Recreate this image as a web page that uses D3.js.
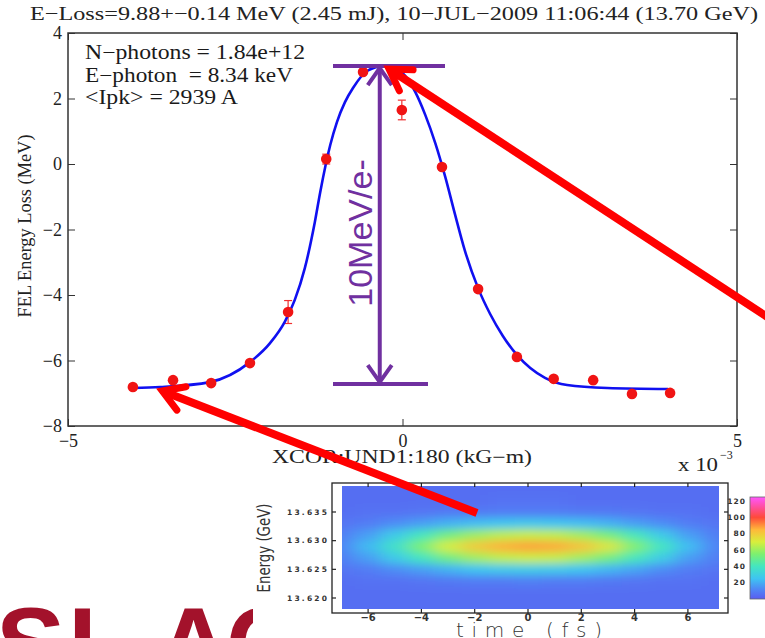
<!DOCTYPE html>
<html>
<head>
<meta charset="utf-8">
<script src="https://cdn.jsdelivr.net/npm/d3@7"></script>
<style>
  body { margin: 0; background: #fff; }
  svg { display: block; }
</style>
</head>
<body>
<div id="chart"></div>
<script>
'use strict'

// measured FEL energy loss (x in units of 1e-3 kG-m, loss in MeV)
const xcor = [-4.03, -3.43, -2.86, -2.28, -1.71, -1.14, -0.59, -0.01, 0.59, 1.13, 1.71, 2.26, 2.85, 3.43, 4.00]
const eLoss = [-6.81, -6.60, -6.69, -6.08, -4.52, 0.15, 2.81, 1.65, -0.09, -3.82, -5.89, -6.56, -6.60, -7.02, -6.99]
const eLossErr = [0.05, 0.07, 0.05, 0.07, 0.35, 0.15, 0.07, 0.30, 0.08, 0.08, 0.07, 0.05, 0.05, 0.05, 0.05]

// fitted curve
const fitX = [-4.03, -3.62, -2.88, -2.28, -1.98, -1.76, -1.61, -1.46, -1.31, -1.23, -1.08, -0.98, -0.86, -0.74, -0.53, -0.29,
  -0.11, 0.04, 0.19, 0.34, 0.49, 0.64, 0.78, 0.93, 1.13, 1.31, 1.50, 1.71, 1.91, 2.13, 2.46, 3.06, 3.97]
const fitY = [-6.84, -6.81, -6.66, -6.05, -5.47, -4.82, -4.15, -3.18, -1.77, -0.86, 0.58, 1.28, 1.89, 2.32, 2.84, 2.99,
  2.93, 2.69, 2.20, 1.50, 0.64, -0.40, -1.50, -2.63, -3.79, -4.58, -5.25, -5.83, -6.23, -6.53, -6.75, -6.84, -6.87]

const xTicks = [-5, 0, 5]
const yTicks = [-8, -6, -4, -2, 0, 2, 4]
const bracket = [-6.72, 2.99] // purple 10 MeV marker

const titleText = 'E−Loss=9.88+−0.14 MeV (2.45 mJ), 10−JUL−2009 11:06:44 (13.70 GeV)'
const infoLines = ['N−photons = 1.84e+12', 'E−photon  = 8.34 keV', '<Ipk> = 2939 A']

// inset: electron energy vs time image
const insetTime = [-7, -6, -5, -4, -3, -2, -1, 0, 1, 2, 3, 4, 5, 6, 7]
const insetEnergy = [13.639, 13.637, 13.635, 13.633, 13.631, 13.629, 13.627, 13.625, 13.623, 13.621, 13.619]
const insetCounts = [
  [5, 5, 5, 5, 5, 5, 5, 5, 5, 5, 5, 5, 5, 5, 5],
  [5, 5, 5, 5, 5, 5, 6, 6, 6, 5, 5, 5, 5, 5, 5],
  [5, 6, 6, 7, 8, 8, 9, 9, 9, 8, 8, 7, 6, 6, 5],
  [7, 9, 13, 17, 21, 24, 26, 27, 26, 24, 21, 17, 13, 9, 7],
  [10, 17, 28, 40, 52, 60, 65, 67, 66, 61, 53, 41, 28, 17, 10],
  [12, 23, 38, 55, 70, 80, 86, 88, 87, 82, 72, 56, 40, 24, 12],
  [10, 17, 28, 40, 52, 61, 66, 68, 67, 61, 53, 41, 29, 17, 10],
  [7, 9, 13, 17, 21, 25, 27, 28, 27, 25, 22, 18, 13, 9, 7],
  [5, 6, 6, 7, 8, 9, 9, 10, 9, 9, 8, 7, 6, 6, 5],
  [5, 5, 5, 5, 5, 5, 5, 5, 5, 5, 5, 5, 5, 5, 5],
  [5, 5, 5, 5, 5, 5, 5, 5, 5, 5, 5, 5, 5, 5, 5]
]
const insetTimeTicks = [-6, -4, -2, 0, 2, 4, 6]
const insetEnergyTicks = [13.635, 13.630, 13.625, 13.620]
const colorbarTicks = [20, 40, 60, 80, 100, 120]

const W = 765
const H = 638
const serif = "'Liberation Serif', 'Times New Roman', serif"
const sans = "'Liberation Sans', Arial, sans-serif"

const svg = d3.select('#chart').append('svg')
  .attr('width', W)
  .attr('height', H)

svg.append('rect').attr('width', W).attr('height', H).attr('fill', '#fff')

const defs = svg.append('defs')

// ---- main plot ----
const x = d3.scaleLinear().domain([-5, 5]).range([68, 737])
const y = d3.scaleLinear().domain([-8, 4]).range([426, 33])

const main = svg.append('g').attr('class', 'main')

function styleAxis (g) {
  g.attr('font-family', serif).attr('font-size', 18)
  g.selectAll('.tick line').attr('stroke', '#333').attr('stroke-width', 1)
  g.selectAll('.tick text').attr('fill', '#222')
  g.select('.domain').remove()
}

main.append('g')
  .attr('transform', `translate(0,${y(-8)})`)
  .call(d3.axisBottom(x).tickValues(xTicks).tickSize(-7).tickPadding(8))
  .call(styleAxis)
main.append('g')
  .attr('transform', `translate(0,${y(4)})`)
  .call(d3.axisTop(x).tickValues(xTicks).tickSize(-7).tickFormat(''))
  .call(styleAxis)
main.append('g')
  .attr('transform', `translate(${x(-5)},0)`)
  .call(d3.axisLeft(y).tickValues(yTicks).tickSize(-7).tickPadding(6))
  .call(styleAxis)
main.append('g')
  .attr('transform', `translate(${x(5)},0)`)
  .call(d3.axisRight(y).tickValues(yTicks).tickSize(-7).tickFormat(''))
  .call(styleAxis)

main.append('rect')
  .attr('x', x(-5)).attr('y', y(4))
  .attr('width', x(5) - x(-5)).attr('height', y(-8) - y(4))
  .attr('fill', 'none').attr('stroke', '#333').attr('stroke-width', 1.5)

// error bars
const pts = xcor.map((v, i) => ({ x: v, y: eLoss[i], e: eLossErr[i] }))
const err = main.append('g').attr('class', 'errorbars')
  .attr('stroke', '#f03030').attr('stroke-width', 1.2)
err.selectAll('line.bar').data(pts).enter().append('line')
  .attr('x1', d => x(d.x)).attr('x2', d => x(d.x))
  .attr('y1', d => y(d.y - d.e)).attr('y2', d => y(d.y + d.e))
err.selectAll('line.capt').data(pts).enter().append('line')
  .attr('x1', d => x(d.x) - 4).attr('x2', d => x(d.x) + 4)
  .attr('y1', d => y(d.y + d.e)).attr('y2', d => y(d.y + d.e))
err.selectAll('line.capb').data(pts).enter().append('line')
  .attr('x1', d => x(d.x) - 4).attr('x2', d => x(d.x) + 4)
  .attr('y1', d => y(d.y - d.e)).attr('y2', d => y(d.y - d.e))

// fit curve
const fit = fitX.map((v, i) => [v, fitY[i]])
main.append('path')
  .attr('d', d3.line().x(d => x(d[0])).y(d => y(d[1])).curve(d3.curveMonotoneX)(fit))
  .attr('fill', 'none').attr('stroke', '#1010f0').attr('stroke-width', 2.6)

// markers
main.append('g').attr('class', 'points')
  .selectAll('circle').data(pts).enter().append('circle')
  .attr('cx', d => x(d.x)).attr('cy', d => y(d.y)).attr('r', 5.3)
  .attr('fill', '#f01414')

// texts
svg.append('text')
  .attr('x', 30).attr('y', 20)
  .attr('font-family', serif).attr('font-size', 19).attr('fill', '#222')
  .attr('textLength', 728).attr('lengthAdjust', 'spacingAndGlyphs')
  .text(titleText)

const infoLen = [220, 208, 153]
main.append('g').selectAll('text').data(infoLines).enter().append('text')
  .attr('x', 85).attr('y', (d, i) => 59 + i * 22.5)
  .attr('font-family', serif).attr('font-size', 20).attr('fill', '#1a1a1a')
  .attr('textLength', (d, i) => infoLen[i]).attr('lengthAdjust', 'spacingAndGlyphs')
  .style('white-space', 'pre')
  .text(d => d)

main.append('text')
  .attr('transform', 'translate(31,226) rotate(-90)')
  .attr('text-anchor', 'middle')
  .attr('font-family', serif).attr('font-size', 18).attr('fill', '#222')
  .attr('textLength', 183).attr('lengthAdjust', 'spacingAndGlyphs')
  .text('FEL Energy Loss (MeV)')

main.append('text')
  .attr('x', 402).attr('y', 463)
  .attr('text-anchor', 'middle')
  .attr('font-family', serif).attr('font-size', 18).attr('fill', '#222')
  .attr('textLength', 260).attr('lengthAdjust', 'spacingAndGlyphs')
  .text('XCOR:UND1:180 (kG−m)')

main.append('text')
  .attr('x', 678).attr('y', 471)
  .attr('font-family', serif).attr('font-size', 18).attr('fill', '#222')
  .attr('textLength', 40).attr('lengthAdjust', 'spacingAndGlyphs')
  .text('x 10')
main.append('text')
  .attr('x', 720).attr('y', 459)
  .attr('font-family', serif).attr('font-size', 12).attr('fill', '#222')
  .text('−3')

// purple 10 MeV bracket
const purple = '#7030a0'
const bx = x(-0.34)
const yTop = y(bracket[1])
const yBot = y(bracket[0])
const ann = svg.append('g').attr('class', 'bracket')
  .attr('stroke', purple).attr('stroke-width', 4).attr('fill', 'none')
ann.append('line').attr('x1', 333).attr('x2', 445).attr('y1', yTop).attr('y2', yTop)
ann.append('line').attr('x1', 333).attr('x2', 428).attr('y1', yBot).attr('y2', yBot)
ann.append('line').attr('x1', bx).attr('x2', bx).attr('y1', yTop + 2).attr('y2', yBot - 2)
ann.append('path').attr('d', `M${bx - 12},${yTop + 19}L${bx},${yTop + 2}L${bx + 12},${yTop + 19}`)
  .attr('stroke-linejoin', 'miter')
ann.append('path').attr('d', `M${bx - 12},${yBot - 19}L${bx},${yBot - 2}L${bx + 12},${yBot - 19}`)
  .attr('stroke-linejoin', 'miter')
svg.append('text')
  .attr('transform', `translate(${bx - 8},233) rotate(-90)`)
  .attr('text-anchor', 'middle')
  .attr('font-family', sans).attr('font-size', 34).attr('fill', purple)
  .text('10MeV/e-')

// ---- SLAC logo (behind the inset) ----
const logo = svg.append('g').attr('font-family', sans).attr('font-weight', 'bold')
  .attr('font-size', 104).attr('fill', '#a3122b')
const logoLetters = [['S', -4], ['L', 68], ['A', 156], ['C', 226]]
logo.selectAll('text').data(logoLetters).enter().append('text')
  .attr('x', d => d[1]).attr('y', 680)
  .text(d => d[0])

// ---- inset ----
const inset = svg.append('g').attr('class', 'inset')
inset.append('rect').attr('x', 253).attr('y', 478).attr('width', W - 253).attr('height', H - 478)
  .attr('fill', '#fff')

const t = d3.scaleLinear().domain([0, 2]).range([528, 581.3])
const e = d3.scaleLinear().domain([13.620, 13.635]).range([598, 512])
const cmap = d3.scaleLinear()
  .domain([0, 12, 25, 40, 55, 70, 85, 100, 125])
  .range(['#5a5cf0', '#4f88f5', '#3ec4f2', '#44e6c0', '#7cf070', '#d8ee3c', '#ffb83a', '#ff4a3a', '#ff55ff'])

const frame = { x0: 332, x1: 728, y0: 483, y1: 613 }
const img = { x0: 342, x1: 719, y0: 486, y1: 609 }

inset.append('rect')
  .attr('x', frame.x0).attr('y', frame.y0)
  .attr('width', frame.x1 - frame.x0).attr('height', frame.y1 - frame.y0)
  .attr('fill', '#fff')

defs.append('clipPath').attr('id', 'imgclip')
  .append('rect').attr('x', img.x0).attr('y', img.y0)
  .attr('width', img.x1 - img.x0).attr('height', img.y1 - img.y0)
defs.append('filter').attr('id', 'soft')
  .attr('filterUnits', 'userSpaceOnUse')
  .attr('x', 300).attr('y', 460).attr('width', 460).attr('height', 180)
  .append('feGaussianBlur').attr('stdDeviation', '9 4.5')

const cells = []
insetEnergy.forEach((en, r) => {
  insetTime.forEach((tm, c) => cells.push({ t: tm, e: en, v: insetCounts[r][c] }))
})
const heat = inset.append('g').attr('clip-path', 'url(#imgclip)')
  .append('g').attr('filter', 'url(#soft)')
heat.append('rect').attr('x', 310).attr('y', 470).attr('width', 440).attr('height', 160)
  .attr('fill', cmap(5))
heat.selectAll('rect.cell').data(cells).enter().append('rect')
  .attr('class', 'cell')
  .attr('x', d => t(d.t - 0.5)).attr('width', t(1) - t(0) + 0.5)
  .attr('y', d => e(d.e + 0.001)).attr('height', e(13.620) - e(13.622) + 0.5)
  .attr('fill', d => cmap(d.v))

inset.append('rect')
  .attr('x', frame.x0).attr('y', frame.y0)
  .attr('width', frame.x1 - frame.x0).attr('height', frame.y1 - frame.y0)
  .attr('fill', 'none').attr('stroke', '#222').attr('stroke-width', 1.3)

const iticks = inset.append('g').attr('stroke', '#222').attr('stroke-width', 1.2)
insetTimeTicks.forEach(v => {
  iticks.append('line').attr('x1', t(v)).attr('x2', t(v)).attr('y1', frame.y0).attr('y2', frame.y0 + 4)
  iticks.append('line').attr('x1', t(v)).attr('x2', t(v)).attr('y1', frame.y1).attr('y2', frame.y1 - 4)
})
insetEnergyTicks.forEach(v => {
  iticks.append('line').attr('x1', frame.x0).attr('x2', frame.x0 + 4).attr('y1', e(v)).attr('y2', e(v))
  iticks.append('line').attr('x1', frame.x1).attr('x2', frame.x1 - 4).attr('y1', e(v)).attr('y2', e(v))
})

inset.append('g').selectAll('text').data(insetTimeTicks).enter().append('text')
  .attr('x', d => t(d)).attr('y', 621)
  .attr('text-anchor', 'middle')
  .attr('font-family', "'DejaVu Sans', sans-serif").attr('font-weight', 'bold')
  .attr('font-size', 10).attr('fill', '#333')
  .text(d => d3.format('d')(d))

inset.append('g').selectAll('text').data(insetEnergyTicks).enter().append('text')
  .attr('x', 327).attr('y', d => e(d)).attr('dy', '0.35em')
  .attr('text-anchor', 'end')
  .attr('font-family', "'DejaVu Sans', sans-serif").attr('font-weight', 'bold')
  .attr('font-size', 7.5).attr('fill', '#333')
  .attr('textLength', 40).attr('lengthAdjust', 'spacing')
  .text(d => d3.format('.3f')(d))

inset.append('text')
  .attr('transform', 'translate(270,548) rotate(-90)')
  .attr('text-anchor', 'middle')
  .attr('font-family', "'DejaVu Sans Condensed', 'DejaVu Sans', sans-serif").attr('font-weight', 300)
  .attr('font-size', 18).attr('fill', '#333')
  .attr('textLength', 89).attr('lengthAdjust', 'spacingAndGlyphs')
  .text('Energy (GeV)')

inset.append('text')
  .attr('x', 529).attr('y', 637)
  .attr('text-anchor', 'middle')
  .attr('font-family', "'DejaVu Sans', sans-serif").attr('font-weight', 300)
  .attr('font-size', 20).attr('fill', '#333')
  .attr('textLength', 146).attr('lengthAdjust', 'spacing')
  .text('time (fs)')

// colorbar
const cb = d3.scaleLinear().domain([0, 125]).range([599, 497])
const grad = defs.append('linearGradient').attr('id', 'cbgrad')
  .attr('x1', 0).attr('y1', 1).attr('x2', 0).attr('y2', 0)
grad.selectAll('stop').data(cmap.domain()).enter().append('stop')
  .attr('offset', d => d / 125)
  .attr('stop-color', d => cmap(d))
inset.append('rect')
  .attr('x', 750).attr('y', cb(125)).attr('width', 20).attr('height', cb(0) - cb(125))
  .attr('fill', 'url(#cbgrad)').attr('stroke', '#666').attr('stroke-width', 0.8)
inset.append('g').selectAll('text').data(colorbarTicks).enter().append('text')
  .attr('x', 746).attr('y', d => cb(d)).attr('dy', '0.35em')
  .attr('text-anchor', 'end')
  .attr('font-family', "'DejaVu Sans', sans-serif").attr('font-weight', 'bold')
  .attr('font-size', 7.5).attr('fill', '#333')
  .attr('letter-spacing', 1)
  .text(d => d)

// ---- red arrows ----
function redArrow (tail, tip) {
  const ang = Math.atan2(tail[1] - tip[1], tail[0] - tip[0])
  const len = 24
  const a1 = [tip[0] + len * Math.cos(ang - 0.55), tip[1] + len * Math.sin(ang - 0.55)]
  const a2 = [tip[0] + len * Math.cos(ang + 0.55), tip[1] + len * Math.sin(ang + 0.55)]
  const g = svg.append('g').attr('stroke', '#ff0000').attr('fill', 'none')
  g.append('line')
    .attr('x1', tail[0]).attr('y1', tail[1]).attr('x2', tip[0] + 2 * Math.cos(ang)).attr('y2', tip[1] + 2 * Math.sin(ang))
    .attr('stroke-width', 8)
  g.append('path')
    .attr('d', `M${a1[0]},${a1[1]}L${tip[0]},${tip[1]}L${a2[0]},${a2[1]}`)
    .attr('stroke-width', 7).attr('stroke-linejoin', 'miter').attr('stroke-linecap', 'round')
}

const peakIdx = d3.maxIndex(fitY)
redArrow([775, 322], [x(fitX[peakIdx]) + 6, y(fitY[peakIdx]) + 3])
redArrow([477, 513], [x(fitX[1]) + 2, y(fitY[1]) + 4])
</script>
</body>
</html>
